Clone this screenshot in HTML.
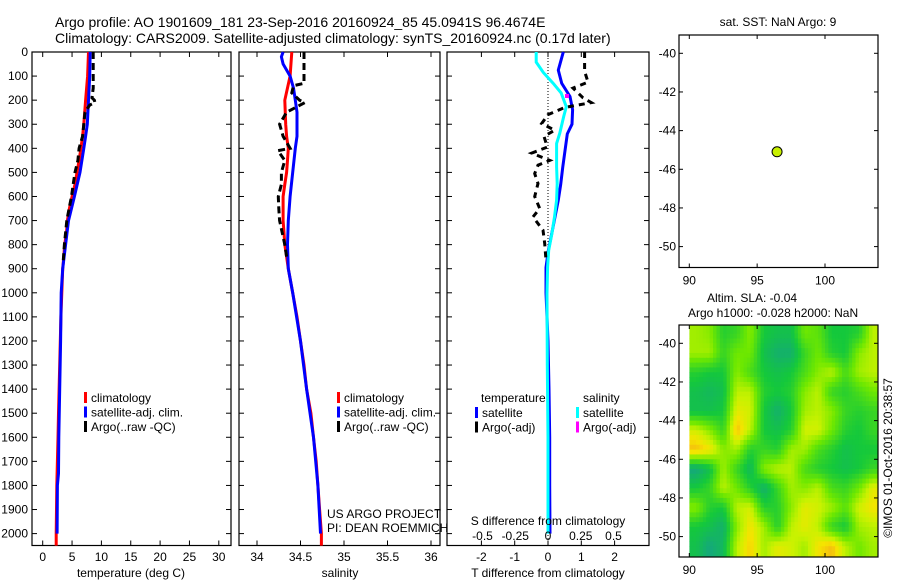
<!DOCTYPE html>
<html><head><meta charset="utf-8"><style>
html,body{margin:0;padding:0;background:#fff;}
svg{display:block;font-family:"Liberation Sans",sans-serif;}
text{fill:#000;}
</style></head><body>
<svg id="c" width="900" height="580" viewBox="0 0 900 580" xmlns="http://www.w3.org/2000/svg">
<text x="55" y="27" font-size="14">Argo profile: AO 1901609_181 23-Sep-2016 20160924_85 45.0941S 96.4674E</text>
<text x="55" y="43" font-size="14">Climatology: CARS2009. Satellite-adjusted climatology: synTS_20160924.nc (0.17d later)</text>
<g id="g"></g>
</svg>
<script>
// ---- data ----
const depthTicks=[0,100,200,300,400,500,600,700,800,900,1000,1100,1200,1300,1400,1500,1600,1700,1800,1900,2000];
const tempTicks=[0,5,10,15,20,25,30];
const salTicks=[34,34.5,35,35.5,36];
const tdTicks=[-2,-1,0,1,2];
const sdTicks=[-0.5,-0.25,0,0.25,0.5];
const latTicks=[-40,-42,-44,-46,-48,-50];
const lonTicks=[90,95,100];

const climDepth=[0,100,200,300,350,400,450,500,550,600,650,700,750,800,850,900,1000,1100,1200,1300,1400,1500,1600,1700,1800,1900,2000,2050];
const climTemp=[7.8,7.65,7.3,7.0,6.8,6.5,6.2,5.85,5.5,5.0,4.55,4.2,4.05,3.75,3.6,3.4,3.25,3.1,3.0,2.9,2.8,2.7,2.6,2.5,2.4,2.35,2.3,2.3];
const satTDepth=[0,100,200,300,350,400,500,600,700,800,900,1000,1200,1400,1600,1750,1800,2000];
const satTemp=[8.1,8.0,7.8,7.6,7.3,7.0,6.35,5.4,4.4,3.9,3.4,3.15,3.05,2.9,2.75,2.7,2.5,2.45];
const argoTDepth=[0,150,190,200,210,220,250,300,350,400,450,500,550,600,650,700,750,800,870];
const argoTemp=[8.6,8.6,8.4,8.8,8.9,8.0,7.2,7.0,6.8,6.2,6.0,5.5,5.2,4.9,4.5,4.1,3.9,3.7,3.5];

const climSal=[34.40,34.38,34.32,34.33,34.34,34.36,34.35,34.34,34.32,34.30,34.30,34.30,34.31,34.32,34.34,34.36,34.41,34.46,34.50,34.54,34.57,34.62,34.65,34.68,34.70,34.72,34.74,34.74];
const satSDepth=[0,20,50,100,150,200,250,350,400,500,600,700,800,900,1000,1200,1400,1600,1800,2000];
const satSal=[34.30,34.28,34.30,34.38,34.42,34.44,34.46,34.46,34.44,34.41,34.38,34.36,34.35,34.36,34.41,34.50,34.57,34.65,34.70,34.73];
const argoSDepth=[0,130,140,170,200,210,250,300,350,400,410,450,500,550,600,650,700,750,800,850];
const argoSal=[34.54,34.54,34.42,34.40,34.49,34.55,34.34,34.26,34.30,34.38,34.24,34.32,34.28,34.28,34.245,34.25,34.26,34.29,34.32,34.34];

const tdDepth=[0,75,130,185,240,300,340,410,480,550,615,685,755,825,895,1000,1200,1400,1600,1800,2000];
const tdSat=[0.46,0.31,0.41,0.66,0.74,0.72,0.58,0.51,0.44,0.38,0.31,0.21,0.11,0.01,-0.06,-0.06,0,0.03,0.05,0.05,0.06];
const sdDepth=[0,42,85,130,170,227,268,337,380,477,546,615,685,754,823,893,1003,1300,1600,2000];
const sdSat=[-0.09,-0.09,-0.036,0.04,0.10,0.14,0.12,0.09,0.066,0.066,0.07,0.066,0.05,0.03,0.005,-0.003,-0.008,-0.005,0.0,0.0];
const tdArgoDepth=[0,80,125,150,190,210,230,260,297,325,350,395,420,450,470,505,546,600,650,685,740,795,865];
const tdArgo=[1.1,1.1,1.2,0.75,1.05,1.3,0.51,0,-0.19,0.2,-0.12,-0.02,-0.49,0.05,-0.3,-0.4,-0.3,-0.4,-0.25,-0.45,-0.15,-0.1,-0.06];

const floatLon=[96.4674];
const floatLat=[-45.0941];

const slaLats=[-39,-40,-41,-42,-43,-44,-45,-46,-47,-48,-49,-50];
const slaLons=[90,91,92,93,94,95,96,97,98,99,100,101,102,103];
const slaRow0=[0.2,0.1,-0.4,-0.3,0.1,-0.5,-0.6,-0.6,0,-0.1,-0.5,-0.5,-0.4,0.3];
const slaRow1=[0.2,0.2,-0.3,0,0,-0.6,-0.8,-0.8,-0.3,0,-0.4,-0.5,0.1,0.3];
const slaRow2=[-0.4,-0.5,-0.5,0.1,-0.2,-0.5,-0.6,-0.5,-0.2,0.1,0.3,-0.2,0.2,0.3];
const slaRow3=[-0.6,-0.7,-0.6,0.3,0.3,-0.4,-0.5,-0.4,0.1,0.3,-0.3,-0.4,-0.2,0];
const slaRow4=[-0.6,-0.6,-0.5,0.5,0.4,-0.5,-0.8,-0.5,0.2,0.3,0.1,-0.3,-0.4,-0.3];
const slaRow5=[0.4,0.1,-0.3,0.8,0.3,-0.5,-0.6,-0.4,0.4,0.4,0,-0.4,-0.5,-0.3];
const slaRow6=[0.8,0.6,0.1,0.2,-0.4,-0.3,-0.4,0.2,0.2,-0.2,-0.4,-0.6,-0.5,-0.5];
const slaRow7=[-0.9,-0.6,0.2,-0.3,-0.7,0.1,0.3,0.3,-0.2,-0.4,-0.5,-0.6,-0.5,-0.3];
const slaRow8=[-0.5,-0.3,0.3,0,-0.4,-0.8,-0.3,0.2,0.1,0.3,-0.2,-0.3,0,0.5];
const slaRow9=[0.1,-0.4,-0.5,0.3,0.4,-0.4,-0.4,0.1,0.5,0.4,0.2,-0.1,0.4,0.6];
const slaRow10=[-0.5,-0.6,-0.8,0.1,0.6,0.2,-0.4,0.3,0.5,0.3,-0.3,-0.5,0.2,0.3];
const slaRow11=[-0.6,-0.9,-0.7,0.3,0.7,0.2,0.5,0.4,0.2,0.6,0.8,0.3,0,0.2];
const slaRows=[slaRow0,slaRow1,slaRow2,slaRow3,slaRow4,slaRow5,slaRow6,slaRow7,slaRow8,slaRow9,slaRow10,slaRow11];

// ---- scales ----
const PT=52,PB=545.5;
const yD=d=>52+d*0.2408;
const xT=t=>42.7+t*5.87;
const xS=s=>257+(s-34)*87;
const xTD=v=>548+v*33.3;
const xSD=v=>548+v*131;
const xLon=l=>689.3+(l-90)*13.57;
const yLat1=l=>53.3+(-40-l)*19.33;
const yLat2=l=>343.3+(-40-l)*19.33;

const NS="http://www.w3.org/2000/svg";
const G=document.getElementById('g');
function mk(tag,at,parent){const e=document.createElementNS(NS,tag);for(const k in at)e.setAttribute(k,at[k]);(parent||G).appendChild(e);return e;}
function txt(x,y,s,size,anchor){const e=mk('text',{x:x,y:y,'font-size':size,'text-anchor':anchor||'start'});e.textContent=s;return e;}

function frame(x0,x1,y0,y1,name){
  const r=mk('rect',{x:x0,y:y0,width:x1-x0,height:y1-y0,fill:'none',stroke:'#000','stroke-width':1.2});
  
  
}
function line(xs,ys,color,w,dash,name){
  let d='';for(let i=0;i<xs.length;i++)d+=(i?'L':'M')+xs[i].toFixed(1)+' '+ys[i].toFixed(1);
  const p=mk('path',{d:d,fill:'none',stroke:color,'stroke-width':w,'stroke-dasharray':dash||'none'});
  
  
}
function xticks(x0,x1,vals,fx,labels,name){
  vals.forEach((v,i)=>{const x=fx(v);
    mk('line',{x1:x,x2:x,y1:PB,y2:PB-5,stroke:'#000'});
    mk('line',{x1:x,x2:x,y1:PT,y2:PT+5,stroke:'#000'});
    if(labels){const t=txt(x,561,labels[i],12,'middle');
      
      }
  });
}
function yticks(x0,x1,lbl){
  depthTicks.forEach(d=>{const y=yD(d);
    mk('line',{x1:x0,x2:x0+5,y1:y,y2:y,stroke:'#000'});
    mk('line',{x1:x1,x2:x1-5,y1:y,y2:y,stroke:'#000'});
    if(lbl){const t=txt(28,y+4,String(d),12,'end');
      
      }
  });
}
// ---- panel 1: temperature ----
frame(32,231,PT,PB,'temperature-panel');
yticks(32,231,true);
xticks(32,231,tempTicks,xT,tempTicks.map(String),'temperature');
line(climTemp.map(xT),climDepth.map(yD),'#ff0000',3,null,'temperature-climatology-line');
line(satTemp.map(xT),satTDepth.map(yD),'#0000ff',3,null,'temperature-satellite-line');
line(argoTemp.map(xT),argoTDepth.map(yD),'#000',3,'7 4','temperature-argo-line');
let t=txt(131,577,'temperature (deg C)',12,'middle');



function legend(x,items,name){
  items.forEach((it,i)=>{const y=398+i*14.5;
    mk('rect',{x:x,y:y-6,width:3,height:11,fill:it[1]});
    const e=txt(x+7,y+4,it[0],12);
    
    
  });
}
legend(84,[['climatology','#ff0000'],['satellite-adj. clim.','#0000ff'],['Argo(..raw -QC)','#000']],'temperature-legend');

// ---- panel 2: salinity ----
frame(239,440,PT,PB,'salinity-panel');
yticks(239,440,false);
xticks(239,440,salTicks,xS,salTicks.map(String),'salinity');
line(climSal.map(xS),climDepth.map(yD),'#ff0000',3,null,'salinity-climatology-line');
line(satSal.map(xS),satSDepth.map(yD),'#0000ff',3,null,'salinity-satellite-line');
line(argoSal.map(xS),argoSDepth.map(yD),'#000',3,'7 4','salinity-argo-line');
t=txt(340,577,'salinity',12,'middle');


legend(337,[['climatology','#ff0000'],['satellite-adj. clim.','#0000ff'],['Argo(..raw -QC)','#000']],'salinity-legend');
t=txt(327,518,'US ARGO PROJECT',12);


t=txt(327,532,'PI: DEAN ROEMMICH',12);



// ---- panel 3: differences ----
frame(447,649,PT,PB,'difference-panel');
yticks(447,649,false);
xticks(447,649,tdTicks,xTD,tdTicks.map(String),'t-difference');
mk('line',{x1:548,x2:548,y1:PT,y2:PB,stroke:'#000','stroke-dasharray':'1 2'});
line(tdSat.map(xTD),tdDepth.map(yD),'#0000ff',3,null,'t-difference-satellite-line');
line(sdSat.map(xSD),sdDepth.map(yD),'#00ffff',3,null,'s-difference-satellite-line');
line(tdArgo.map(xTD),tdArgoDepth.map(yD),'#000',3,'6 5','t-difference-argo-line');
mk('rect',{x:565,y:94,width:4,height:4,fill:'#ff00ff'});
sdTicks.forEach(v=>{const e=txt(xSD(v),540,String(v),12,'middle');
  
  });
t=txt(548,525,'S difference from climatology',12,'middle');


t=txt(548,577,'T difference from climatology',12,'middle');


[['temperature',null,481],['salinity',null,583]].forEach(a=>{const e=txt(a[2],402,a[0],12);
  
  });
[[475,'satellite','#0000ff',0],[475,'Argo(-adj)','#000',1],[576,'satellite','#00ffff',0],[576,'Argo(-adj)','#ff00ff',1]].forEach(a=>{
  const y=413+a[3]*14.5;
  mk('rect',{x:a[0],y:y-6,width:3,height:11,fill:a[2]});
  const e=txt(a[0]+7,y+4,a[1],12);
  
  
});

// ---- maps ----
function mapAxes(y0,y1,fy,name){
  frame(679,878,y0,y1,name);
  latTicks.forEach(l=>{const y=fy(l);
    mk('line',{x1:679,x2:683,y1:y,y2:y,stroke:'#000'});
    mk('line',{x1:878,x2:874,y1:y,y2:y,stroke:'#000'});
    const e=txt(676,y+4,String(l),12,'end');
    
    });
  lonTicks.forEach(l=>{const x=xLon(l);
    mk('line',{x1:x,x2:x,y1:y0,y2:y0+4,stroke:'#000'});
    mk('line',{x1:x,x2:x,y1:y1,y2:y1-4,stroke:'#000'});
    const e=txt(x,y1+17,String(l),12,'middle');
    
    });
}
function cmap(v){
  const stops=[[-1,[20,160,140]],[-0.5,[20,200,60]],[0,[110,232,0]],[0.35,[200,242,0]],[0.6,[245,228,0]],[1,[245,150,30]]];
  v=Math.max(-1,Math.min(1,v));
  for(let i=0;i<stops.length-1;i++){const a=stops[i],b=stops[i+1];
    if(v<=b[0]){const f=(v-a[0])/(b[0]-a[0]);return 'rgb('+a[1].map((c,k)=>Math.round(c+(b[1][k]-c)*f)).join(',')+')';}}
  return 'rgb(245,150,30)';
}
const defs=mk('defs',{});
const cp=mk('clipPath',{id:'hc'},defs);
mk('rect',{x:689.3,y:325,width:188.7,height:232},cp);
const hg=mk('g',{'clip-path':'url(#hc)'});


// bilinear sampling between cell centres
function sample(i,j){
  const nr=slaRows.length,nc=slaRows[0].length;
  i=Math.max(0,Math.min(nr-1,i));j=Math.max(0,Math.min(nc-1,j));
  const i0=Math.floor(i),j0=Math.floor(j),i1=Math.min(nr-1,i0+1),j1=Math.min(nc-1,j0+1),fi=i-i0,fj=j-j0;
  return slaRows[i0][j0]*(1-fi)*(1-fj)+slaRows[i0][j1]*(1-fi)*fj+slaRows[i1][j0]*fi*(1-fj)+slaRows[i1][j1]*fi*fj;
}
const SUB=4;
for(let i=0;i<slaRows.length*SUB;i++){for(let j=0;j<slaLons.length*SUB;j++){
  const fi=(i+0.5)/SUB-0.5,fj=(j+0.5)/SUB-0.5;
  const lat=slaLats[0]-i/SUB,lon=slaLons[0]+j/SUB;
  const x0=xLon(lon),y0=yLat2(lat);
  const c=mk('rect',{x:x0.toFixed(2),y:y0.toFixed(2),width:(13.57/SUB+0.6).toFixed(2),height:(19.33/SUB+0.6).toFixed(2),fill:cmap(sample(fi,fj))},hg);
  
  
}}
mapAxes(35,267.5,yLat1,'float-location-map');
mapAxes(325,557,yLat2,'sla-map');
const dot=mk('circle',{cx:xLon(floatLon[0]),cy:yLat1(floatLat[0]),r:5,fill:'#c8f000',stroke:'#000','stroke-width':1});


t=txt(778,26,'sat. SST: NaN Argo: 9',12,'middle');


t=txt(707,302,'Altim. SLA: -0.04',12);


t=txt(688,317,'Argo h1000: -0.028 h2000: NaN',12);


t=txt(0,0,'©IMOS 01-Oct-2016 20:38:57',12,'middle');
t.setAttribute('transform','translate(892,458) rotate(-90)');


</script>
</body></html>
